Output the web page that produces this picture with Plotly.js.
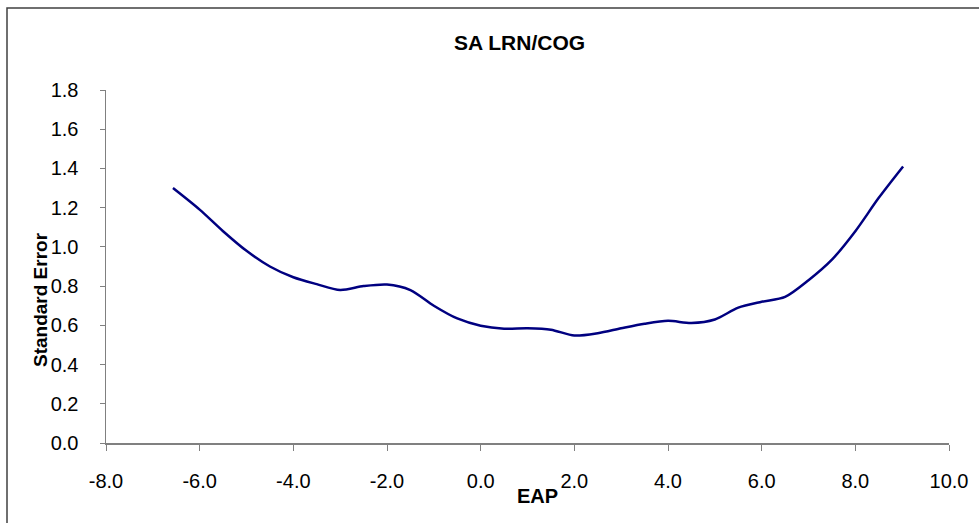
<!DOCTYPE html>
<html>
<head>
<meta charset="utf-8">
<script src="https://cdn.plot.ly/plotly-3.0.1.min.js"></script>
<style>html,body{margin:0;padding:0;background:#fff;}#chart{width:979px;height:523px;}</style>
</head>
<body>
<div id="chart"></div>
<script>
var eap = [-6.57, -6.0, -5.5, -5.0, -4.5, -4.0, -3.5, -3.0, -2.5, -2.0, -1.5, -1.0, -0.5, 0.0, 0.5, 1.0, 1.5, 2.0, 2.5, 3.0, 3.5, 4.0, 4.5, 5.0, 5.5, 6.0, 6.5, 7.0, 7.5, 8.0, 8.5, 9.02];
var stdErr = [1.30, 1.19, 1.08, 0.98, 0.90, 0.845, 0.81, 0.78, 0.80, 0.808, 0.78, 0.70, 0.635, 0.598, 0.583, 0.585, 0.578, 0.548, 0.560, 0.585, 0.608, 0.623, 0.612, 0.630, 0.690, 0.720, 0.745, 0.83, 0.935, 1.08, 1.25, 1.41];
var xTickVals = [-8, -6, -4, -2, 0, 2, 4, 6, 8, 10];
var yTickVals = [0, 0.2, 0.4, 0.6, 0.8, 1.0, 1.2, 1.4, 1.6, 1.8];
var chartTitle = 'SA LRN/COG';
var xTitle = 'EAP';
var yTitle = 'Standard Error';

var trace = {
  x: eap, y: stdErr, type: 'scatter', mode: 'lines',
  line: {color: '#000080', width: 2.5, shape: 'spline', smoothing: 0.8},
  hoverinfo: 'skip'
};
var fontFam = '"Liberation Sans", Arial, sans-serif';
var L = 106, R = 30, T = 90, B = 80, W = 979, H = 523;
var pw = W - L - R, ph = H - T - B;
function px(x) { return (x - L) / pw; }
function py(y) { return (H - B - y) / ph; }
var layout = {
  width: W, height: H,
  margin: {l: L, r: R, t: T, b: B},
  paper_bgcolor: '#ffffff', plot_bgcolor: '#ffffff',
  showlegend: false,
  font: {family: fontFam, color: '#000000', size: 20},
  xaxis: {
    range: [-8, 10], tickvals: xTickVals, ticktext: xTickVals.map(function(v){return v.toFixed(1);}),
    showline: true, linecolor: '#808080', linewidth: 1.5, zeroline: false, showgrid: false,
    ticks: 'outside', ticklen: 6, tickcolor: '#808080', tickwidth: 1,
    ticklabelstandoff: 13,
    tickfont: {family: fontFam, size: 20, color: '#000'}
  },
  yaxis: {
    range: [0, 1.8], tickvals: yTickVals, ticktext: yTickVals.map(function(v){return v.toFixed(1);}),
    showline: true, linecolor: '#808080', linewidth: 1.5, zeroline: false, showgrid: false,
    ticks: 'outside', ticklen: 5, tickcolor: '#808080', tickwidth: 1,
    ticklabelstandoff: 17,
    tickfont: {family: fontFam, size: 20, color: '#000'}
  },
  annotations: [
    {text: '<b>' + chartTitle + '</b>', xref: 'paper', yref: 'paper', x: px(519), y: py(42), xanchor: 'center', yanchor: 'middle', showarrow: false, font: {family: fontFam, size: 21, color: '#000'}},
    {text: '<b>' + xTitle + '</b>', xref: 'paper', yref: 'paper', x: px(537), y: py(496), xanchor: 'center', yanchor: 'middle', showarrow: false, font: {family: fontFam, size: 20, color: '#000'}},
    {text: '<b>' + yTitle + '</b>', xref: 'paper', yref: 'paper', x: px(40), y: py(300), xanchor: 'center', yanchor: 'middle', textangle: -90, showarrow: false, font: {family: fontFam, size: 19, color: '#000'}}
  ],
  shapes: [{
    type: 'rect', xref: 'paper', yref: 'paper',
    x0: px(7), x1: 1.1, y0: -0.3, y1: py(8),
    line: {color: '#404040', width: 1.5}, fillcolor: 'rgba(0,0,0,0)', layer: 'below'
  }]
};
Plotly.newPlot('chart', [trace], layout, {staticPlot: true, displayModeBar: false});
</script>
</body>
</html>
